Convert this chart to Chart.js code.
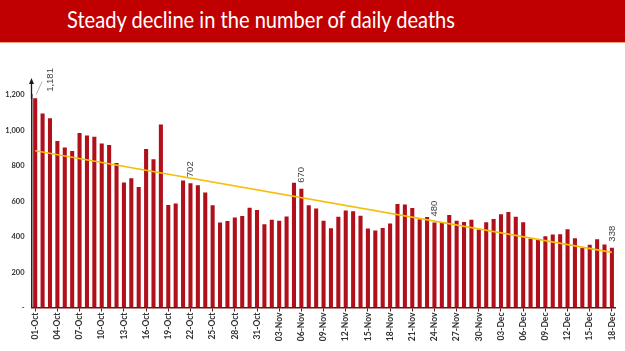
<!DOCTYPE html>
<html><head><meta charset="utf-8">
<script src="https://cdn.jsdelivr.net/npm/chart.js@4.4.1/dist/chart.umd.min.js"></script>
<style>
html,body{margin:0;padding:0;background:#fff;width:625px;height:351px;overflow:hidden;}
#wrap{position:absolute;left:0;top:0;width:625px;height:351px;}
#banner{position:absolute;left:0;top:0;width:625px;height:42px;background:#C00000;border-bottom:1.5px solid #F2A27A;z-index:2;}
#title{position:absolute;left:67px;top:5px;color:#fff;font-family:Lato,'Open Sans',sans-serif;font-size:24px;white-space:nowrap;transform-origin:0 0;line-height:28px;}
</style></head>
<body>
<div id="wrap"><canvas id="c" width="625" height="351"></canvas></div>
<div id="banner"><span id="title">Steady decline in the number of daily deaths</span></div>
<script>
const dates = [
 '01-Oct','02-Oct','03-Oct','04-Oct','05-Oct','06-Oct','07-Oct','08-Oct','09-Oct','10-Oct',
 '11-Oct','12-Oct','13-Oct','14-Oct','15-Oct','16-Oct','17-Oct','18-Oct','19-Oct','20-Oct',
 '21-Oct','22-Oct','23-Oct','24-Oct','25-Oct','26-Oct','27-Oct','28-Oct','29-Oct','30-Oct','31-Oct',
 '01-Nov','02-Nov','03-Nov','04-Nov','05-Nov','06-Nov','07-Nov','08-Nov','09-Nov','10-Nov',
 '11-Nov','12-Nov','13-Nov','14-Nov','15-Nov','16-Nov','17-Nov','18-Nov','19-Nov','20-Nov',
 '21-Nov','22-Nov','23-Nov','24-Nov','25-Nov','26-Nov','27-Nov','28-Nov','29-Nov','30-Nov',
 '01-Dec','02-Dec','03-Dec','04-Dec','05-Dec','06-Dec','07-Dec','08-Dec','09-Dec','10-Dec',
 '11-Dec','12-Dec','13-Dec','14-Dec','15-Dec','16-Dec','17-Dec','18-Dec'
];
const deaths = [
 1181,1095,1069,940,903,884,986,971,964,926,
 918,816,706,730,680,895,837,1033,579,587,
 717,702,690,650,578,480,488,508,517,563,551,
 470,496,490,514,704,670,577,559,490,447,
 512,548,544,518,446,435,449,474,584,582,
 562,498,511,480,480,522,490,483,496,440,
 482,500,526,540,512,482,390,381,403,412,
 413,442,391,336,355,386,356,338
];
const trendEnds = [885, 311];
const yTicks = [0, 200, 400, 600, 800, 1000, 1200];
const labelIdx = [0, 21, 36, 54, 78];

// scale title to reference width
(function(){
  const t=document.getElementById('title');
  const w=t.getBoundingClientRect().width;
  t.style.transform='scaleX('+(388/w)+')';
})();

const trendData = dates.map((_, i) => i===0 ? trendEnds[0] : (i===dates.length-1 ? trendEnds[1] : null));

const annot = {
  id:'annot',
  afterDatasetsDraw(chart){
    const c=chart.ctx, meta=chart.getDatasetMeta(1), ca=chart.chartArea;
    c.save();
    // axis arrow
    const ax=ca.left;
    c.strokeStyle='#1a1a1a'; c.lineWidth=1.3;
    c.beginPath(); c.moveTo(ax, ca.top+4); c.lineTo(ax, 83); c.stroke();
    c.fillStyle='#1a1a1a';
    c.beginPath(); c.moveTo(ax-2.5,84); c.lineTo(ax+2.5,84); c.lineTo(ax,78); c.closePath(); c.fill();
    // leader line for first label
    const b0=meta.data[0];
    c.strokeStyle='#9a9a9a'; c.lineWidth=0.8;
    c.beginPath(); c.moveTo(b0.x+1, b0.y-4); c.lineTo(b0.x+7, b0.y-17); c.stroke();
    // value labels
    c.fillStyle='#404040';
    c.font="9.5px 'Liberation Sans', Arial, sans-serif";
    c.textAlign='left'; c.textBaseline='middle';
    labelIdx.forEach(i=>{
      const b=meta.data[i];
      let x=b.x, y=b.y-6;
      if(i===0){ x=b.x+15; y=b.y-6.5; }
      c.save(); c.translate(x,y); c.rotate(-Math.PI/2);
      c.fillText(deaths[i].toLocaleString('en-US'),0,0);
      c.restore();
    });
    c.restore();
  }
};

new Chart(document.getElementById('c'), {
  type:'bar',
  data:{
    labels:dates,
    datasets:[
      {type:'line', data:trendData, borderColor:'#F5BE0A', borderWidth:1.7, pointRadius:0, spanGaps:true, order:0, fill:false},
      {type:'bar', data:deaths, backgroundColor:'#B0101A', barPercentage:0.55, categoryPercentage:1, order:1}
    ]
  },
  options:{
    responsive:false, animation:false, devicePixelRatio:1,
    layout:{padding:{top:95, right:9.4, left:0, bottom:0}},
    plugins:{legend:{display:false}, tooltip:{enabled:false}},
    scales:{
      x:{
        afterFit:s=>{s.height=43.5;},
        grid:{offset:false, drawOnChartArea:false, tickLength:4, lineWidth:1,
              color:c=> (c.index%3===0 ? '#5a1a1a' : 'rgba(0,0,0,0)')},
        border:{color:'#6a1414', width:1.5},
        ticks:{autoSkip:false, maxRotation:90, minRotation:90, padding:1, color:'#333',
               font:{family:"Lato,'Liberation Sans',sans-serif", size:8.5, weight:'bold'},
               callback:(v,i)=> (i%3===0 ? dates[i] : '')}
      },
      y:{
        min:yTicks[0], max:yTicks[yTicks.length-1],
        afterFit:s=>{s.width=31.5;},
        afterBuildTicks:s=>{s.ticks=yTicks.map(v=>({value:v}));},
        grid:{drawOnChartArea:false, drawTicks:false},
        border:{color:'#3a1a1a', width:1.5},
        ticks:{padding:7, color:'#333',
               font:{family:"Lato,'Liberation Sans',sans-serif", size:7.5, weight:'bold'},
               callback:v=> (v===0 ? '-' : v.toLocaleString('en-US'))}
      }
    }
  },
  plugins:[annot]
});
</script>
</body></html>
